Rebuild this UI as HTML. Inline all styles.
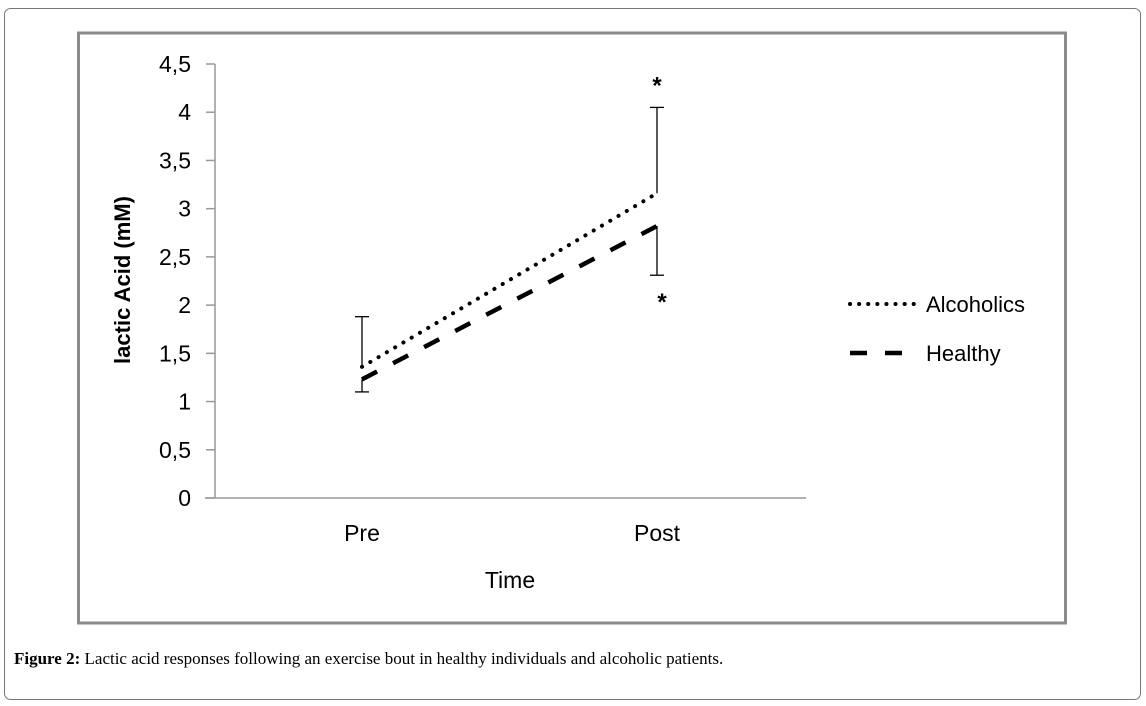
<!DOCTYPE html>
<html><head><meta charset="utf-8"><style>
body{margin:0;background:#fff;}
svg{display:block;font-family:"Liberation Sans",sans-serif;}
</style></head><body>
<svg width="1146" height="706" viewBox="0 0 1146 706">
<rect x="4.5" y="8.5" width="1136" height="691" rx="6" fill="#fff" stroke="#777" stroke-width="1"/>
<rect x="78.5" y="33" width="987" height="590" fill="#fff" stroke="#8a8a8a" stroke-width="3"/>
<g id="axes"></g>
<g id="marks"></g>
<text x="130" y="280" transform="rotate(-90 130 280)" text-anchor="middle" font-size="22" font-weight="bold">lactic Acid (mM)</text>
<text x="510" y="588" text-anchor="middle" font-size="23">Time</text>
<g>
<line x1="850" y1="304" x2="915" y2="304" stroke="#000" stroke-width="4" stroke-dasharray="0.1 9" stroke-linecap="round"/>
<text x="926" y="312" font-size="22">Alcoholics</text>
<line x1="850" y1="353" x2="906" y2="353" stroke="#000" stroke-width="4.5" stroke-dasharray="17 18"/>
<text x="926" y="361" font-size="22">Healthy</text>
</g>
<text x="14" y="664" font-family="Liberation Serif,serif" font-size="17"><tspan font-weight="bold">Figure 2:</tspan> Lactic acid responses following an exercise bout in healthy individuals and alcoholic patients.</text>
</svg>
<script>
const categories=["Pre","Post"];
const alcoholics=[1.36,3.16];
const alcoholicsErrTop=[1.88,4.05];
const healthy=[1.23,2.82];
const healthyErrBottom=[1.10,2.31];
const yTicks=[0,0.5,1,1.5,2,2.5,3,3.5,4,4.5];
const yTickLabels=["0","0,5","1","1,5","2","2,5","3","3,5","4","4,5"];
const NS="http://www.w3.org/2000/svg";
const y=v=>498-v*(434/4.5);
const x=i=>362+i*295;
function mk(t,a,p){const e=document.createElementNS(NS,t);for(const k in a)e.setAttribute(k,a[k]);p.appendChild(e);return e;}
const ax=document.getElementById('axes'),mg=document.getElementById('marks');
let e=mk('line',{x1:215,y1:y(4.5),x2:215,y2:y(0),stroke:'#999','stroke-width':1.5},ax);


e=mk('line',{x1:205,y1:y(0),x2:806,y2:y(0),stroke:'#999','stroke-width':1.5},ax);


yTicks.forEach((v,i)=>{
 let t=mk('line',{x1:206,y1:y(v),x2:215,y2:y(v),stroke:'#999','stroke-width':1.5},ax);
 
 
 let l=mk('text',{x:191,y:y(v)+8,'text-anchor':'end','font-size':23},ax);l.textContent=yTickLabels[i];
 
 
});
categories.forEach((c,i)=>{
 let l=mk('text',{x:x(i),y:541,'text-anchor':'middle','font-size':23},ax);l.textContent=c;
 
 
});
// error bars
categories.forEach((c,i)=>{
 let g=mk('g',{stroke:'#000','stroke-width':1.3},mg);
 
 
 mk('line',{x1:x(i),y1:y(alcoholics[i]),x2:x(i),y2:y(alcoholicsErrTop[i])},g);
 mk('line',{x1:x(i)-7,y1:y(alcoholicsErrTop[i]),x2:x(i)+7,y2:y(alcoholicsErrTop[i])},g);
 let h=mk('g',{stroke:'#000','stroke-width':1.3},mg);
 
 
 mk('line',{x1:x(i),y1:y(healthy[i]),x2:x(i),y2:y(healthyErrBottom[i])},h);
 mk('line',{x1:x(i)-7,y1:y(healthyErrBottom[i]),x2:x(i)+7,y2:y(healthyErrBottom[i])},h);
});
e=mk('polyline',{points:alcoholics.map((v,i)=>x(i)+','+y(v)).join(' '),fill:'none',stroke:'#000','stroke-width':4,'stroke-dasharray':'0.1 9.5','stroke-linecap':'round'},mg);


e=mk('polyline',{points:healthy.map((v,i)=>x(i)+','+y(v)).join(' '),fill:'none',stroke:'#000','stroke-width':4.5,'stroke-dasharray':'17 18'},mg);


e=mk('text',{x:x(1),y:y(alcoholicsErrTop[1])-14,'text-anchor':'middle','font-size':24,'font-weight':'bold'},mg);e.textContent='*';


e=mk('text',{x:x(1)+5,y:y(healthyErrBottom[1])+35,'text-anchor':'middle','font-size':24,'font-weight':'bold'},mg);e.textContent='*';


</script>
</body></html>
